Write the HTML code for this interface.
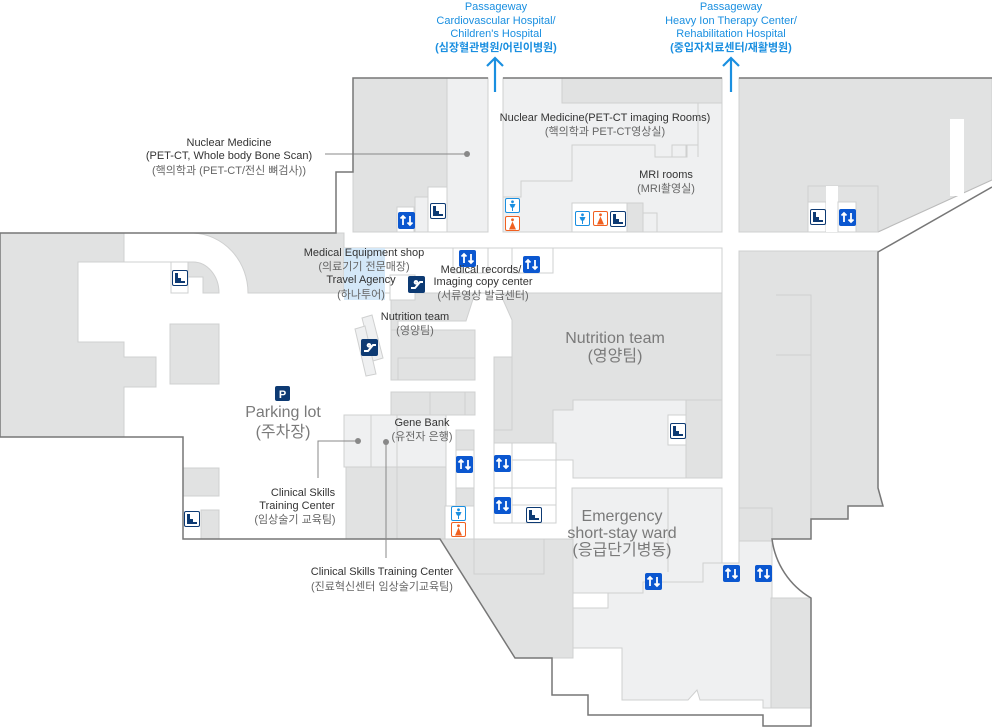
<!DOCTYPE html>
<html><head><meta charset="utf-8"><style>
html,body{margin:0;padding:0;background:#fff;}
svg{display:block;font-family:"Liberation Sans","Noto Sans CJK KR",sans-serif;}
.d{fill:#e1e2e2;stroke:#cfd0d0;stroke-width:1}
.l{fill:#eff0f1;stroke:#cfd0d0;stroke-width:1}
.w{fill:#fff;stroke:#cfd0d0;stroke-width:1}
.o{fill:none;stroke:#777;stroke-width:1.5}
.t{font-size:11px;fill:#333;text-anchor:middle}
.k{font-size:11px;fill:#666;text-anchor:middle}
.b{font-size:16px;fill:#7a7a7a;text-anchor:middle}
.p{font-size:11px;fill:#1a8fe0;text-anchor:middle}
</style></head><body>
<svg width="992" height="727" viewBox="0 0 992 727">
<defs>
<g id="el"><rect width="17" height="17" rx="2" fill="#0b57d0"/><path d="M5 13V4M2.5 6.5L5 4l2.5 2.5M12 4v9M9.5 10.5L12 13l2.5-2.5" stroke="#fff" stroke-width="1.8" fill="none"/></g>
<g id="st"><rect x=".5" y=".5" width="15" height="15" rx="1.5" fill="#fff" stroke="#0d3a73"/><path d="M3 3h3v5h3v3h4v2H3z" fill="#0d3a73"/></g>
<g id="es"><rect width="17" height="17" rx="2" fill="#0d3a73"/><path d="M3 12h4l5-6h3M8 5a1.3 1.3 0 1 0 0.01 0" stroke="#fff" stroke-width="2" fill="none"/></g>
<g id="m"><rect x=".5" y=".5" width="14" height="14" rx="1.5" fill="#fff" stroke="#1a8fe0"/><circle cx="7.5" cy="3.8" r="1.4" fill="#1a8fe0"/><path d="M4.5 6h6l-1.5 3.5h-1v3.5h-1v-3.5h-1z" fill="#1a8fe0"/></g>
<g id="f"><rect x=".5" y=".5" width="14" height="14" rx="1.5" fill="#fff" stroke="#f06020"/><circle cx="7.5" cy="3.8" r="1.4" fill="#f06020"/><path d="M7.5 5.5l3.5 8h-7z" fill="#f06020"/></g>
</defs>

<!-- Left building -->
<rect x="0" y="233" width="344" height="204" fill="#fff"/>
<rect x="183" y="437" width="161" height="102" fill="#fff"/>
<path class="d" d="M0,233H124V262H78V342H124V357H156V387H124V437H0Z"/>
<path class="d" d="M193,233H344V293H248A57,60 0 0 0 193,233Z"/>
<path class="d" d="M188,262H193A26,31 0 0 1 219,293H203V277H188Z"/>
<rect class="w" x="171" y="262" width="17" height="31"/>
<use href="#st" x="172" y="270"/>
<path d="M78,262H171M78,262V342" stroke="#cfd0d0" fill="none"/>
<rect class="d" x="170" y="324" width="49" height="60"/>
<rect class="d" x="183" y="468" width="36" height="28"/>
<rect class="d" x="201" y="510" width="18" height="29"/>
<use href="#st" x="184" y="511"/>
<rect x="275" y="386" width="15" height="15" rx="2" fill="#0d3a73"/>
<text x="282.5" y="398" font-size="11" font-weight="bold" fill="#fff" text-anchor="middle">P</text>
<text class="b" x="283" y="417">Parking lot</text>
<text class="b" x="283" y="437">(주차장)</text>

<!-- Top-left building -->
<rect class="d" x="353" y="78" width="135" height="154"/>
<rect class="l" x="447" y="78" width="41" height="154"/>
<rect class="w" x="397" y="207" width="17" height="25"/>
<rect class="l" x="415" y="197" width="13" height="35"/>
<rect class="w" x="428" y="187" width="19" height="45"/>
<use href="#el" x="398" y="212"/>
<use href="#st" x="430" y="203"/>
<line x1="325" y1="154" x2="467" y2="154" stroke="#888"/>
<circle cx="467" cy="154" r="3" fill="#888"/>

<!-- Top-middle building -->
<rect class="l" x="503" y="78" width="219" height="154"/>
<rect class="d" x="562" y="78" width="160" height="25"/>
<path d="M698,103V145H672V157H687V145M698,145V157" stroke="#cfd0d0" fill="none"/>
<path d="M503,197H521V181H572V145H655V157H686V145" stroke="#cfd0d0" fill="none"/>
<rect class="w" x="572" y="203" width="55" height="29"/>
<rect class="d" x="627" y="203" width="16" height="29"/>
<rect class="l" x="643" y="213" width="14" height="19"/>
<use href="#m" x="575" y="211"/>
<use href="#f" x="593" y="211"/>
<use href="#st" x="610" y="211"/>
<use href="#m" x="505" y="198"/>
<use href="#f" x="505" y="216"/>

<!-- Right top building -->
<path class="d" d="M739,78H992V180L878,232H739Z"/>
<path d="M878,232L992,180" stroke="#bbb" fill="none"/>
<rect fill="#fff" x="950" y="119" width="14" height="77"/>
<rect class="d" x="808" y="186" width="70" height="46"/>
<rect class="w" x="808" y="202" width="18" height="30"/>
<rect fill="#fff" x="826" y="186" width="12" height="46"/>
<rect class="w" x="838" y="202" width="18" height="30"/>
<use href="#st" x="810" y="209"/>
<use href="#el" x="839" y="209"/>

<!-- Center region -->
<rect class="w" x="344" y="248" width="378" height="45"/>
<rect x="344" y="248" width="41" height="52" fill="#d4e8f8"/>
<rect class="w" x="453" y="248" width="35" height="25"/>
<rect class="w" x="512" y="248" width="41" height="25"/>
<use href="#el" x="459" y="250"/>
<use href="#el" x="523" y="256"/>
<path class="d" d="M391,293H475L466,321H398V365H391Z"/>
<rect class="d" x="391" y="330" width="84" height="50"/>
<rect class="d" x="398" y="358" width="77" height="22"/>
<rect class="d" x="391" y="392" width="84" height="23"/>
<path d="M430,392V415M465,392V415" stroke="#cfd0d0"/>
<path class="l" d="M362,318L372,315L383,358L373,361Z"/>
<path class="l" d="M355,329L365,326L376,374L366,376Z"/>
<use href="#es" x="361" y="339"/>
<rect class="w" x="390" y="275" width="25" height="25"/>
<use href="#es" x="408" y="276"/>
<rect class="l" x="344" y="415" width="102" height="52"/>
<path d="M371,415V467M397,415V467" stroke="#cfd0d0"/>
<rect class="d" x="346" y="467" width="100" height="72"/>
<rect class="d" x="397" y="467" width="49" height="72"/>
<rect class="d" x="456" y="430" width="18" height="20"/>
<rect class="w" x="456" y="450" width="18" height="38"/>
<rect class="d" x="456" y="488" width="18" height="18"/>
<rect class="w" x="445" y="506" width="29" height="33"/>
<use href="#el" x="456" y="456"/>
<use href="#m" x="451" y="506"/>
<use href="#f" x="451" y="522"/>

<!-- Nutrition big block -->
<path class="d" d="M500,293H722V478H686V400H573V410H553V488H494V398H512V320Z"/>
<path class="d" d="M494,357H512V430H494Z"/>
<path class="l" d="M553,410H573V400H686V478H573V460H553Z"/>
<rect class="d" x="686" y="400" width="36" height="78"/>
<rect class="w" x="668" y="415" width="18" height="30"/>
<use href="#st" x="670" y="423"/>
<rect class="w" x="494" y="443" width="62" height="45"/>
<rect class="w" x="494" y="488" width="62" height="35"/>
<path d="M512,443V523M512,460H556M512,505H556" stroke="#cfd0d0"/>
<use href="#el" x="494" y="455"/>
<use href="#el" x="494" y="497"/>
<use href="#st" x="526" y="507"/>

<!-- Emergency -->
<rect class="l" x="572" y="488" width="150" height="105"/>
<line x1="668" y1="488" x2="668" y2="572" stroke="#cfd0d0"/>
<path class="l" d="M572,608H608V593H643V582H703V563H739V508H763V518L772,527V598H811V708H763V700L700,700L697,690L688,700H622V648H572Z"/>
<rect class="d" x="739" y="508" width="33" height="33"/>
<use href="#el" x="645" y="573"/>
<use href="#el" x="723" y="565"/>
<use href="#el" x="755" y="565"/>
<rect class="d" x="771" y="598" width="40" height="110"/>
<text class="b" x="622" y="521">Emergency</text>
<text class="b" x="622" y="538">short-stay ward</text>
<text class="b" x="622" y="555">(응급단기병동)</text>

<!-- lower-left dark diag -->
<path class="d" d="M440,539H573V658H515Z"/>
<rect class="d" x="474" y="539" width="70" height="35"/>

<!-- Right lower block -->
<path class="d" d="M739,251H878V488L883,506H848V519H811V539H772V508H739Z"/>
<path d="M776,295H811V355H776M811,295V519" stroke="#cfd0d0" fill="none"/>

<!-- Outlines -->
<path class="o" d="M0,233H336V172H353V78H488M503,78H722M739,78H992"/>
<path class="o" d="M0,233V437H183V539H440L515,658H552V695H588V715H763V726H811V598A80,80 0 0 1 772,539H811V519H848V506H883L878,488V252L992,187"/>

<!-- Passageways -->
<path d="M495,92V58M487,66L495,58L503,66" stroke="#1a8fe0" stroke-width="2.2" fill="none"/>
<path d="M731,92V58M723,66L731,58L739,66" stroke="#1a8fe0" stroke-width="2.2" fill="none"/>
<text class="p" x="496" y="10">Passageway</text>
<text class="p" x="496" y="24">Cardiovascular Hospital/</text>
<text class="p" x="496" y="37">Children's Hospital</text>
<text class="p" x="496" y="51" font-weight="bold">(심장혈관병원/어린이병원)</text>
<text class="p" x="731" y="10">Passageway</text>
<text class="p" x="731" y="24">Heavy Ion Therapy Center/</text>
<text class="p" x="731" y="37">Rehabilitation Hospital</text>
<text class="p" x="731" y="51" font-weight="bold">(중입자치료센터/재활병원)</text>

<!-- Labels -->
<text class="t" x="229" y="146">Nuclear Medicine</text>
<text class="t" x="229" y="159">(PET-CT, Whole body Bone Scan)</text>
<text class="k" x="229" y="174">(핵의학과 (PET-CT/전신 뼈검사))</text>
<text class="t" x="605" y="121">Nuclear Medicine(PET-CT imaging Rooms)</text>
<text class="k" x="605" y="135">(핵의학과 PET-CT영상실)</text>
<text class="t" x="666" y="178">MRI rooms</text>
<text class="k" x="666" y="192">(MRI촬영실)</text>
<text class="t" x="364" y="256">Medical Equipment shop</text>
<text class="k" x="364" y="270">(의료기기 전문매장)</text>
<text class="t" x="361" y="283">Travel Agency</text>
<text class="k" x="361" y="298">(하나투어)</text>
<text class="t" x="481" y="273">Medical records/</text>
<text class="t" x="483" y="285">Imaging copy center</text>
<text class="k" x="483" y="299">(서류영상 발급센터)</text>
<text class="t" x="415" y="320">Nutrition team</text>
<text class="k" x="415" y="334">(영양팀)</text>
<text class="b" x="615" y="343">Nutrition team</text>
<text class="b" x="615" y="361">(영양팀)</text>
<text class="t" x="422" y="426">Gene Bank</text>
<text class="k" x="422" y="440">(유전자 은행)</text>
<text class="t" x="303" y="496">Clinical Skills</text>
<text class="t" x="297" y="509">Training Center</text>
<text class="k" x="295" y="523">(임상술기 교육팀)</text>
<text class="t" x="382" y="575">Clinical Skills Training Center</text>
<text class="k" x="382" y="590">(진료혁신센터 임상술기교육팀)</text>
<path d="M318,478V441H358" stroke="#888" fill="none"/>
<circle cx="358" cy="441" r="3" fill="#888"/>
<path d="M386,558V442" stroke="#888"/>
<circle cx="386" cy="442" r="3" fill="#888"/>
</svg>
</body></html>
